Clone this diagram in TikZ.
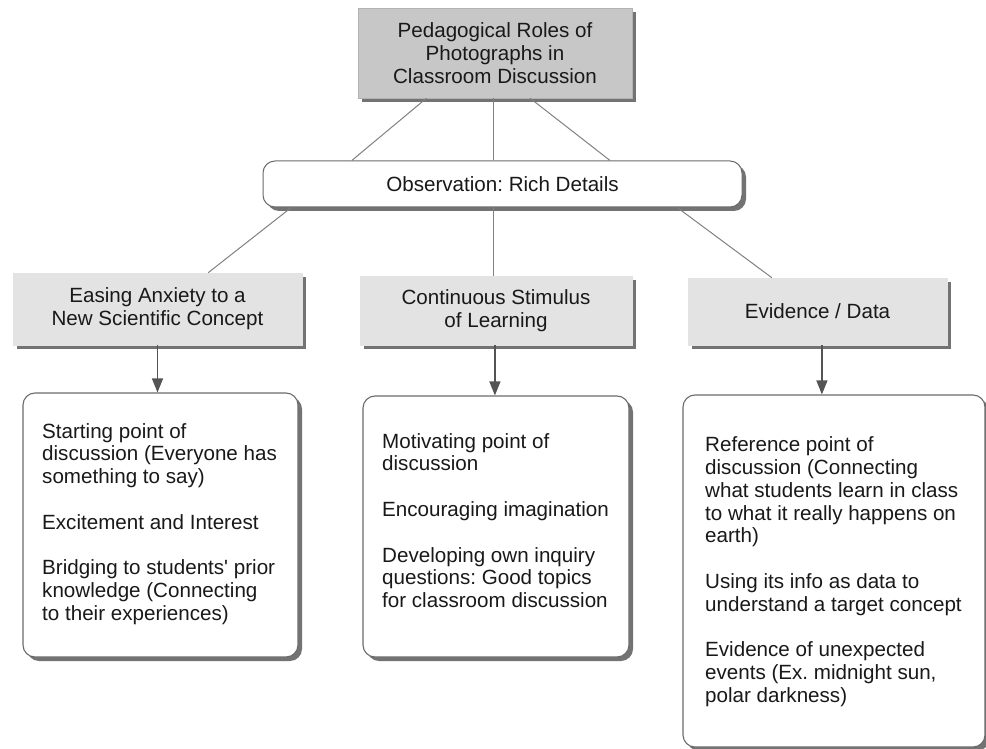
\documentclass[tikz,border=0pt]{standalone}
\usepackage{fontspec}
\setmainfont{Liberation Sans}[Ligatures=TeXOff]
\usetikzlibrary{shadows,arrows.meta,calc}
\frenchspacing
\definecolor{txt}{gray}{0.10}
\definecolor{titlefill}{gray}{0.78}
\definecolor{lvlfill}{gray}{0.89}
\definecolor{shade}{gray}{0.45}
\definecolor{edge}{gray}{0.42}
\definecolor{conncol}{gray}{0.50}
\definecolor{arrcol}{gray}{0.33}
\tikzset{
  basefont/.style={font=\fontsize{20.6}{22.8}\selectfont, text=txt},
  shad/.style={drop shadow={shadow xshift=4pt, shadow yshift=-4pt, fill=shade, opacity=1}},
  titlebox/.style={basefont, shad, fill=titlefill, draw=gray!60, line width=0.6pt, align=center, inner sep=0pt},
  obsbox/.style={basefont, shad, fill=white, draw=edge, line width=1pt, rounded corners=12pt, align=center, inner sep=0pt},
  lvlbox/.style={basefont, shad, fill=lvlfill, draw=lvlfill, line width=0.6pt, align=center, inner sep=0pt},
  detbox/.style={shad, fill=white, draw=edge, line width=1.1pt, rounded corners=12pt, inner sep=0pt},
  dettext/.style={basefont, align=left, anchor=north west, inner sep=0pt},
  conn/.style={draw=conncol, line width=1pt},
  arr/.style={draw=arrcol, line width=1.3pt, -{Triangle[width=11pt,length=14pt]}}
}
\begin{document}
\begin{tikzpicture}[x=1pt,y=-1pt]
\useasboundingbox (0,0) rectangle (986,749);

% top
\node[titlebox, minimum width=274pt, minimum height=90pt] (title) at (495,53)
  {Pedagogical Roles of\\Photographs in\\Classroom Discussion};
\node[obsbox, minimum width=479pt, minimum height=46pt] (obs) at (502.5,184)
  {Observation: Rich Details};

% level 2
\node[lvlbox, minimum width=289pt, minimum height=72pt] (ease) at (157.5,309)
  {Easing Anxiety to a\\New Scientific Concept};
\node[lvlbox, minimum width=272pt, minimum height=69pt] (stim) at (496,310.5)
  {Continuous Stimulus\\of Learning};
\node[lvlbox, minimum width=259pt, minimum height=67pt] (evid) at (817.5,311.5)
  {Evidence / Data};

% detail boxes
\node[detbox, minimum width=275pt, minimum height=264pt] (dl) at (160.5,525) {};
\node[detbox, minimum width=266pt, minimum height=261pt] (dm) at (496,526.5) {};
\node[detbox, minimum width=302pt, minimum height=352pt] (dr) at (834,571) {};

\node[dettext] (tl) at (42,423)
  {Starting point of\\discussion (Everyone has\\something to say)\\[22.8pt]
   Excitement and Interest\\[22.8pt]
   Bridging to students' prior\\knowledge (Connecting\\to their experiences)};
\node[dettext] (tm) at (382,433)
  {Motivating point of\\discussion\\[22.8pt]
   Encouraging imagination\\[22.8pt]
   Developing own inquiry\\questions: Good topics\\for classroom discussion};
\node[dettext] (tr) at (705,436.5)
  {Reference point of\\discussion (Connecting\\what students learn in class\\to what it really happens on\\earth)\\[22.8pt]
   Using its info as data to\\understand a target concept\\[22.8pt]
   Evidence of unexpected\\events (Ex. midnight sun,\\polar darkness)};

% connectors title -> obs
\coordinate (t1) at ($(title.south west)!0.25!(title.south east)$);
\coordinate (t2) at ($(title.south west)!0.4927!(title.south east)$);
\coordinate (t3) at ($(title.south west)!0.628!(title.south east)$);
\draw[conn] (t1) -- ($(obs.north west)!0.186!(obs.north east)$);
\draw[conn] (t2) -- (t2 |- obs.north);
\draw[conn] (t3) -- ($(obs.north west)!0.724!(obs.north east)$);

% obs -> level 2
\coordinate (o1) at ($(obs.south west)!0.06!(obs.south east)$);
\coordinate (o3) at ($(obs.south west)!0.864!(obs.south east)$);
\coordinate (s2) at ($(stim.north west)!0.4926!(stim.north east)$);
\draw[conn] (o1) -- ($(ease.north west)!0.675!(ease.north east)$);
\draw[conn] (s2 |- obs.south) -- (s2);
\draw[conn] (o3) -- ($(evid.north west)!0.324!(evid.north east)$);

% arrows
\coordinate (a1) at ($(ease.south west)!0.5!(ease.south east)$);
\coordinate (a2) at ($(stim.south west)!0.496!(stim.south east)$);
\coordinate (a3) at ($(evid.south west)!0.517!(evid.south east)$);
\draw[arr] (a1) -- (a1 |- dl.north);
\draw[arr] (a2) -- (a2 |- dm.north);
\draw[arr] (a3) -- (a3 |- dr.north);
\end{tikzpicture}
\end{document}
